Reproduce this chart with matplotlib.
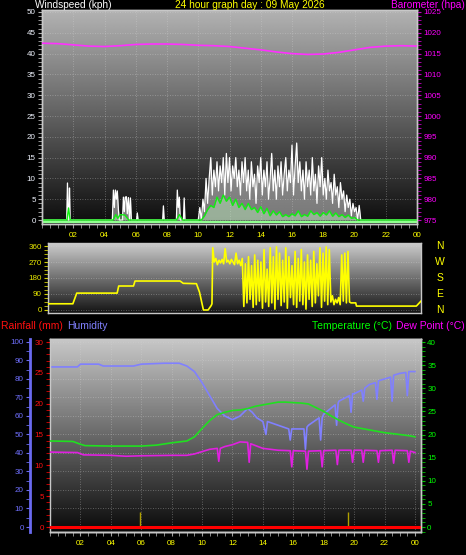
import numpy as np
import matplotlib
matplotlib.use('Agg')
import matplotlib.pyplot as plt
from matplotlib.ticker import MultipleLocator, FixedLocator
from matplotlib.transforms import blended_transform_factory

plt.rcParams['font.family'] = ['Liberation Sans', 'DejaVu Sans']

# ---------------- data ----------------
hour_ticks = [2, 4, 6, 8, 10, 12, 14, 16, 18, 20, 22, 24]
hour_labels = ['02', '04', '06', '08', '10', '12', '14', '16', '18', '20', '22', '00']

# wind gust (kph)
gust_t_quiet = [0.0, 1.58, 1.63, 1.68, 1.72, 1.76, 1.80, 4.50, 4.57, 4.63, 4.70, 4.76, 4.82, 4.89, 4.95,
                5.05, 5.15, 5.21, 5.27, 5.33, 5.40, 5.46, 5.53, 5.60, 5.66, 5.72, 6.05, 6.10, 6.15,
                7.72, 7.77, 7.82, 8.60, 8.66, 8.72, 8.79, 8.85, 9.05, 9.10, 9.15, 9.85]
gust_v_quiet = [0, 0, 8.9, 0, 0, 7.7, 0, 0, 7.2, 3, 7.2, 5, 7.0, 2.5, 0,
                0, 0, 5.5, 2, 5.5, 5.6, 1.5, 5.4, 0, 5.3, 0, 0, 1.7, 0,
                0, 3.4, 0, 0, 7.2, 3, 5.5, 0, 0, 5.3, 0, 0]
gust_active_start = 9.9
gust_active_step = 0.1
gust_active = [0, 0, 3, 0, 5, 2, 10, 4, 10, 15, 6, 12, 8, 14, 7, 13, 9, 15, 6, 16, 9, 15, 7, 13, 10, 15,
               8, 12, 6, 14, 9, 15, 7, 12, 5, 14, 8, 11, 4, 13, 9, 15, 6, 12, 8, 14, 5, 10, 16, 7, 12,
               5, 13, 8, 14, 6, 11, 15, 7, 12, 9, 18, 6, 13, 18.5, 9, 14, 7, 12, 5, 14, 8, 12, 6, 15,
               7, 11, 4, 13, 8, 15, 6, 10, 5, 12, 7, 9, 4, 11, 6, 8, 3, 9, 5, 7, 2, 6, 3, 5, 1, 4, 2,
               3, 0, 3.5, 0, 0]
gust_t_tail = [20.7, 24.0]
gust_v_tail = [0, 0]

# average wind (kph)
avg_t_quiet = [0, 1.6, 1.7, 1.8, 4.55, 4.72, 4.85, 5.0, 5.3, 5.55, 8.6, 8.8, 9.0, 10.0]
avg_v_quiet = [0, 0, 2.9, 0, 0, 1.3, 0.4, 1.3, 1.2, 0, 0, 1.3, 0, 0]
avg_active_start = 10.2
avg_active_step = 0.2
avg_active = [0, 1, 2.5, 3.5, 3, 5.5, 4, 6, 4.5, 5.5, 3.5, 5, 3, 4, 2.5, 4, 2.5, 3, 1.8, 3.2, 1.5,
              2.8, 1, 2.2, 1.2, 2, 0.8, 1.3, 0.8, 1.5, 1, 2.2, 0.8, 1.3, 0.9, 2.2, 1.3, 1.8, 0.9,
              1.8, 1.2, 2.2, 0.9, 1.7, 0.8, 1.3, 0.6, 1.2, 0.4, 0.6, 0]
avg_t_tail = [24.0]
avg_v_tail = [0]

# barometer (hPa)
baro_t = [0, 1, 2, 3, 4, 5, 6, 7, 8, 9, 10, 11, 12, 13, 14, 15, 16, 17, 18, 19, 20, 21, 22, 23, 24]
baro_v = [1017.5, 1017.4, 1017.1, 1016.8, 1016.7, 1016.9, 1017.2, 1017.3, 1017.3, 1017.2, 1017.0,
          1016.9, 1016.7, 1016.3, 1015.9, 1015.4, 1015.0, 1014.8, 1014.9, 1015.3, 1015.9, 1016.5,
          1016.8, 1016.9, 1016.8]

# wind direction (deg)
dir_t_quiet = [0, 1.6, 1.85, 4.45, 4.55, 5.5, 5.6, 8.5, 8.7, 9.55, 9.75, 9.9, 10.0, 10.3, 10.5, 10.55]
dir_v_quiet = [35, 35, 95, 95, 135, 135, 163, 163, 150, 148, 100, 40, 0, 0, 25, 35]
dir_active_start = 10.6
dir_active_step = 0.1
dir_active = [350, 270, 290, 255, 280, 265, 285, 260, 345, 270,
              280, 260, 285, 270, 255, 320, 260, 280, 250, 290,
              20, 260, 40, 300, 60, 250, 15, 310, 30, 280,
              50, 270, 10, 340, 45, 230, 20, 350, 40, 300,
              5, 355, 60, 320, 25, 280, 45, 350, 10, 300,
              70, 250, 30, 330, 15, 290, 50, 340, 30, 270,
              5, 310, 60, 280, 20, 330, 40, 260, 80, 350,
              15, 320, 50, 355, 30, 340, 45, 80, 30, 60,
              40, 70, 30, 310, 50, 320, 40, 330, 45, 40]
dir_t_tail = [19.8, 19.85, 23.7, 24.0]
dir_v_tail = [40, 22, 22, 50]

# humidity (%)
hum_t = [0, 1.8, 2.0, 3.2, 3.5, 5.5, 6.0, 7.5, 8.5, 9.0, 9.5, 10.0, 10.5, 11.0, 11.5, 12.0, 12.5, 13.0,
         13.3, 13.6, 14.0, 14.2, 14.3, 15.0, 15.7, 15.8, 15.9, 16.0, 16.7, 16.8, 16.9, 17.0, 17.7, 17.8,
         17.9, 18.0, 18.75, 18.85, 18.95, 19.0, 19.7, 19.8, 19.9, 20.0, 20.5, 20.6, 20.7, 21.0, 21.4,
         21.5, 21.6, 22.0, 22.4, 22.5, 22.6, 23.0, 23.4, 23.5, 23.6, 24.0]
hum_v = [86.5, 86.5, 88, 88, 87, 87, 88, 88.5, 88.5, 87, 84, 78, 71, 64, 60, 58, 60, 64,
         62, 59, 57, 50, 57, 55, 53, 47, 53, 53, 53, 42, 54, 55, 59, 47, 59, 61, 66, 55, 67, 68,
         71, 62, 72, 72, 74, 68, 75, 77, 78, 69, 79, 80, 81, 68, 82, 83, 83.5, 71, 84, 84]

# temperature (C)
temp_t = [0, 1.5, 2.0, 2.3, 4, 6, 7, 8, 9, 9.5, 10, 10.5, 11, 11.5, 12, 12.5, 13, 13.5, 14, 14.5, 15,
          15.5, 16, 16.5, 17, 17.5, 18, 18.5, 19, 19.5, 20, 21, 22, 23, 23.7, 24]
temp_v = [18.6, 18.5, 17.9, 17.6, 17.5, 17.5, 17.7, 18.2, 18.6, 19.5, 21.3, 23.0, 24.3, 24.8, 25.2,
          25.3, 25.6, 26.1, 26.4, 26.7, 27.0, 27.0, 26.9, 26.8, 26.6, 25.8, 25.0, 24.0, 23.1, 22.3,
          21.6, 21.0, 20.4, 20.0, 19.7, 19.5]

# dew point (C)
dew_t = [0, 1.8, 2.2, 4, 5, 6, 8, 9, 9.5, 10, 10.5, 11.0, 11.1, 11.2, 11.5, 12, 12.5, 13, 13.1, 13.2,
         13.6, 14, 14.5, 15, 15.8, 15.9, 16.0, 16.8, 16.9, 17.0, 17.8, 17.9, 18.0, 18.8, 18.9, 19.0,
         19.8, 19.9, 20.0, 20.5, 20.6, 20.7, 21.5, 21.6, 21.7, 22.5, 22.6, 22.7, 23.5, 23.6, 23.7, 24]
dew_v = [16.2, 16.1, 15.6, 15.5, 15.3, 15.4, 15.5, 15.5, 15.8, 16.3, 16.8, 17.0, 14.2, 17.0, 17.4,
         17.8, 18.4, 18.3, 14.0, 18.0, 17.5, 17.0, 16.8, 16.6, 16.5, 13.0, 16.5, 16.4, 12.5, 16.4,
         16.5, 13.0, 16.5, 16.6, 13.5, 16.6, 16.6, 14.0, 16.6, 16.6, 14.0, 16.6, 16.5, 14.0, 16.5,
         16.6, 13.8, 16.6, 16.5, 14.0, 16.4, 16.1]

# rainfall (mm)
rain_t = [0, 24.4]
rain_v = [0, 0]
rain_rate_t = [5.9, 19.6]
rain_rate_v = [2.4, 2.4]

# ---------------- layout ----------------
W, H = 466, 555
fig = plt.figure(figsize=(W / 100, H / 100), dpi=100, facecolor='black')


def rect(x0, y0, x1, y1):
    return [x0 / W, 1 - y1 / H, (x1 - x0) / W, (y1 - y0) / H]


def gradient(ax, top, bottom):
    g = np.linspace(top, bottom, 256).reshape(-1, 1)
    ax.imshow(g, cmap='gray', vmin=0, vmax=1, extent=[0, 1, 0, 1], transform=ax.transAxes,
              aspect='auto', zorder=0, interpolation='bilinear')


def style_spines(ax):
    for s in ax.spines.values():
        s.set_color('#c8c8c8')
        s.set_linewidth(1.0)


TICK_FS = 5.8
GRID = dict(color='#d8d8d8', ls=(0, (1, 2)), lw=0.6, alpha=0.45)

# ---- panel 1: wind speed & barometer ----
ax1 = fig.add_axes(rect(42, 10, 417, 224))
ax1.set_facecolor('black')
gradient(ax1, 0.70, 0.05)
ax1.set_xlim(0, 24)
ax1.set_ylim(-0.96, 50.48)
style_spines(ax1)
ax1.yaxis.set_major_locator(MultipleLocator(5))
ax1.yaxis.set_minor_locator(MultipleLocator(1))
ax1.xaxis.set_major_locator(FixedLocator(hour_ticks))
ax1.xaxis.set_minor_locator(MultipleLocator(0.5))
ax1.set_xticklabels(hour_labels)
ax1.tick_params(axis='y', which='both', colors='#b0b0b0', labelcolor='#f0f4ff', labelsize=TICK_FS,
                length=3, pad=1.5)
ax1.tick_params(axis='x', which='both', colors='#a0a0a0', labelcolor='#ffff00', labelsize=TICK_FS,
                length=3, pad=3)
ax1.grid(True, which='major', **GRID)

gust_t = np.concatenate([gust_t_quiet,
                         gust_active_start + gust_active_step * np.arange(len(gust_active)),
                         gust_t_tail])
gust_v = np.concatenate([gust_v_quiet, gust_active, gust_v_tail])
avg_t = np.concatenate([avg_t_quiet,
                        avg_active_start + avg_active_step * np.arange(len(avg_active)),
                        avg_t_tail])
avg_v = np.concatenate([avg_v_quiet, avg_active, avg_v_tail])

ax1.fill_between(gust_t, 0, gust_v, color='#d0d0d0', alpha=0.55, lw=0, zorder=2)
ax1.plot(gust_t, gust_v, color='white', lw=0.9, zorder=3)
ax1.fill_between(avg_t, 0, avg_v, color='#c8ffc8', alpha=0.4, lw=0, zorder=4)
ax1.axhline(-0.5, color='#90ff90', lw=1.6, zorder=4)
ax1.plot(avg_t, avg_v, color='#10f010', lw=1.0, zorder=5)

ax1b = ax1.twinx()
ax1b.set_ylim(975 - 0.96, 1025 + 0.48)
ax1b.yaxis.set_major_locator(MultipleLocator(5))
ax1b.yaxis.set_minor_locator(MultipleLocator(1))
ax1b.tick_params(axis='y', which='both', colors='#c000c0', labelcolor='#ff00ff', labelsize=TICK_FS,
                 length=3, pad=1.5)
style_spines(ax1b)
ax1b.plot(baro_t, baro_v, color='#ff30ff', lw=1.2, zorder=6)

fig.text(35 / W, 1 - 5 / H, 'Windspeed (kph)', color='white', fontsize=7.3, ha='left', va='center')
fig.text(250 / W, 1 - 5 / H, '24 hour graph day : 09 May 2026', color='#ffff00', fontsize=7.3,
         ha='center', va='center')
fig.text(465 / W, 1 - 5 / H, 'Barometer (hpa)', color='#ff00ff', fontsize=7.3, ha='right', va='center')

# ---- panel 2: wind direction ----
ax2 = fig.add_axes(rect(48, 243, 421, 313))
ax2.set_facecolor('black')
gradient(ax2, 0.80, 0.08)
ax2.set_xlim(0, 24)
ax2.set_ylim(-16.9, 376.9)
style_spines(ax2)
ax2.yaxis.set_major_locator(FixedLocator([0, 90, 180, 270, 360]))
ax2.yaxis.set_minor_locator(MultipleLocator(22.5))
ax2.set_xticks([])
ax2.tick_params(axis='y', which='both', colors='#d0d000', labelcolor='#e8e800', labelsize=TICK_FS,
                length=3, pad=1.5)
ax2.grid(True, which='major', axis='y', **GRID)

dir_t = np.concatenate([dir_t_quiet,
                        dir_active_start + dir_active_step * np.arange(len(dir_active)),
                        dir_t_tail])
dir_v = np.concatenate([dir_v_quiet, dir_active, dir_v_tail])
ax2.plot(dir_t, dir_v, color='#ffff00', lw=1.2, zorder=3)

compass_labels = ['N', 'W', 'S', 'E', 'N']
compass_values = [360, 270, 180, 90, 0]
tr = blended_transform_factory(fig.transFigure, ax2.transData)
for lab, val in zip(compass_labels, compass_values):
    ax2.text(440 / W, val, lab, color='#ffff00', fontsize=7.5, ha='center', va='center', transform=tr)

# ---- panel 3: humidity / rain / temperature ----
ax3 = fig.add_axes(rect(50, 339, 421, 532))
ax3.set_facecolor('black')
gradient(ax3, 0.78, 0.04)
ax3.set_xlim(0, 24.4)
ax3.set_ylim(-2.7, 101.6)
style_spines(ax3)
ax3.spines['left'].set_position(('outward', 14.4))
ax3.spines['left'].set_color('#6a6af0')
ax3.spines['left'].set_linewidth(2.0)
ax3.yaxis.set_major_locator(MultipleLocator(10))
ax3.yaxis.set_minor_locator(MultipleLocator(5))
ax3.xaxis.set_major_locator(FixedLocator(hour_ticks))
ax3.xaxis.set_minor_locator(MultipleLocator(0.5))
ax3.set_xticklabels(hour_labels)
ax3.tick_params(axis='y', which='both', colors='#6a6af0', labelcolor='#7070ff', labelsize=TICK_FS,
                length=3, pad=1.5)
ax3.tick_params(axis='x', which='both', colors='#a0a0a0', labelcolor='#ffff00', labelsize=TICK_FS,
                length=3, pad=3)
ax3.grid(True, which='major', **GRID)
ax3.plot(hum_t, hum_v, color='#8080ff', lw=1.2, zorder=3)

ax3r = ax3.twinx()
ax3r.yaxis.set_ticks_position('left')
ax3r.yaxis.set_label_position('left')
ax3r.set_ylim(-0.81, 30.49)
style_spines(ax3r)
ax3r.spines['right'].set_visible(False)
ax3r.yaxis.set_major_locator(MultipleLocator(5))
ax3r.yaxis.set_minor_locator(MultipleLocator(1))
ax3r.tick_params(axis='y', which='both', colors='#e00000', labelcolor='#ff1010', labelsize=TICK_FS,
                 length=3, pad=1.5)

ax3t = ax3.twinx()
ax3t.set_ylim(-1.08, 40.65)
style_spines(ax3t)
ax3t.spines['left'].set_visible(False)
ax3t.yaxis.set_major_locator(MultipleLocator(5))
ax3t.yaxis.set_minor_locator(MultipleLocator(1))
ax3t.tick_params(axis='y', which='both', colors='#00c000', labelcolor='#00ff00', labelsize=TICK_FS,
                 length=3, pad=1.5)
ax3t.plot(temp_t, temp_v, color='#20e020', lw=1.2, zorder=3)
ax3t.plot(dew_t, dew_v, color='#e020e0', lw=1.2, zorder=3)

ax3r.vlines(rain_rate_t, 0, rain_rate_v, color='#b0a000', lw=1.0, zorder=2)
ax3r.plot(rain_t, rain_v, color='#ff0000', lw=2.2, zorder=4)

fig.text(1 / W, 1 - 326 / H, 'Rainfall (mm)', color='#ff1010', fontsize=7.5, ha='left', va='center')
fig.text(67 / W, 1 - 326 / H, 'Humidity', color='#8080ff', fontsize=7.5, ha='left', va='center')
fig.text(392 / W, 1 - 326 / H, 'Temperature (°C)', color='#00ff00', fontsize=7.5, ha='right', va='center')
fig.text(465 / W, 1 - 326 / H, 'Dew Point (°C)', color='#ff00ff', fontsize=7.5, ha='right', va='center')

fig.savefig('out.png', dpi=100, facecolor='black')
